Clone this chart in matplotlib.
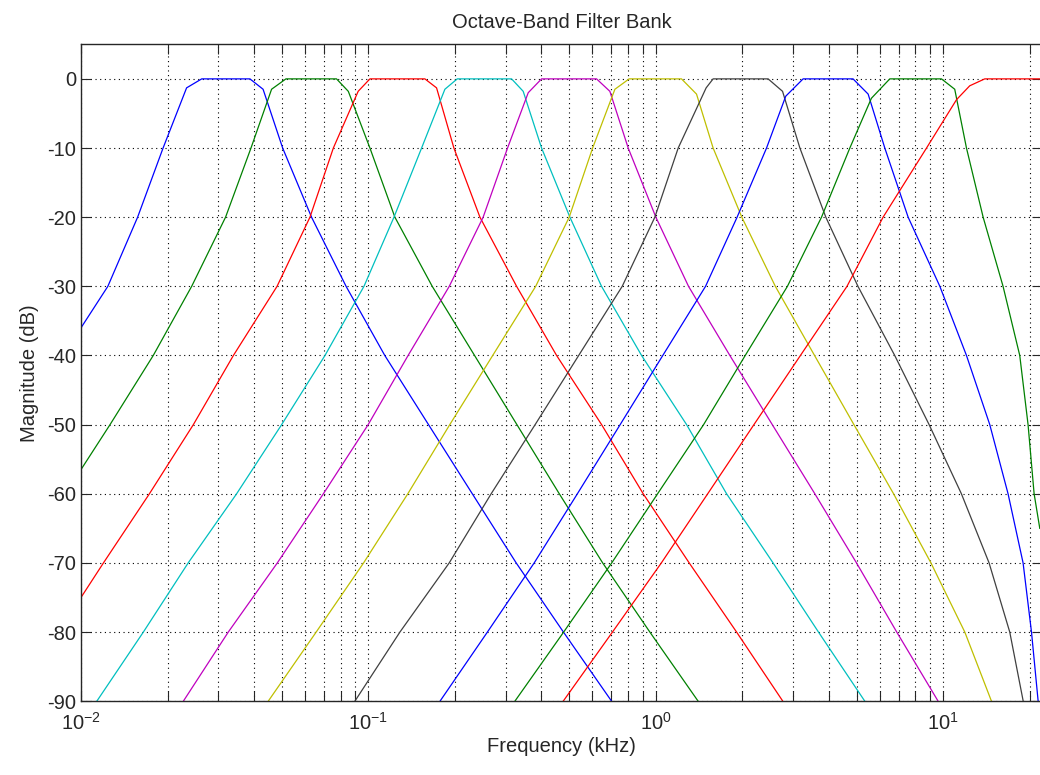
import matplotlib
matplotlib.use('Agg')
import matplotlib.pyplot as plt
from matplotlib.ticker import LogLocator, NullFormatter, MultipleLocator

plt.rcParams['font.family'] = ['Liberation Sans', 'DejaVu Sans']
plt.rcParams['mathtext.fontset'] = 'custom'
plt.rcParams['mathtext.rm'] = 'Liberation Sans'
plt.rcParams['axes.unicode_minus'] = False

# Frequencies in kHz, magnitudes in dB
f1 = [0.01, 0.0124, 0.01574, 0.0193, 0.0233, 0.0263, 0.0387, 0.0430, 0.0503, 0.0634,
      0.0836, 0.114, 0.1618, 0.2298, 0.3266, 0.4769, 0.7015]
m1 = [-36.0, -30, -20, -10, -1.3, 0, 0, -1.5, -10, -20, -30, -40, -50, -60, -70, -80, -90]

f2 = [0.01, 0.01262, 0.01784, 0.02427, 0.03184, 0.03903, 0.04603, 0.05164, 0.07745, 0.08511,
      0.1012, 0.1236, 0.1667, 0.2340, 0.3285, 0.4613, 0.653, 0.953, 1.403]
m2 = [-56.5, -50, -40, -30, -20, -10, -1.5, 0, 0, -1.8, -10, -20, -30, -40, -50, -60, -70, -80, -90]

f3 = [0.01, 0.01197, 0.0173, 0.0246, 0.0339, 0.0481, 0.0626, 0.0755, 0.0921, 0.1012,
      0.1572, 0.1726, 0.1983, 0.2443, 0.3277, 0.4515, 0.6474, 0.9036, 1.306, 1.909, 2.765]
m3 = [-75.0, -70, -60, -50, -40, -30, -20, -10, -1.8, 0, 0, -1.3, -10, -20, -30, -40, -50,
      -60, -70, -80, -90]

f4 = [0.01135, 0.01648, 0.0236, 0.03479, 0.0499, 0.0706, 0.0965, 0.1227, 0.1531, 0.1845,
      0.2037, 0.3148, 0.3455, 0.4003, 0.5023, 0.6471, 0.8918, 1.279, 1.762, 2.557, 3.679, 5.333]
m4 = [-90, -80, -70, -60, -50, -40, -30, -20, -10, -1.5, 0, 0, -1.8, -10, -20, -30, -40, -50,
      -60, -70, -80, -90]

f5 = [0.0227, 0.03254, 0.0482, 0.0697, 0.0998, 0.1374, 0.1911, 0.2507, 0.3048, 0.3597,
      0.4003, 0.6218, 0.6918, 0.8013, 1.0, 1.299, 1.809, 2.541, 3.573, 4.989, 6.887, 9.594]
m5 = [-90, -80, -70, -60, -50, -40, -30, -20, -10, -2.0, 0, 0, -1.8, -10, -20, -30, -40, -50,
      -60, -70, -80, -90]

f6 = [0.04481, 0.0658, 0.0962, 0.1371, 0.1919, 0.2706, 0.3819, 0.4994, 0.6026, 0.7203,
      0.8075, 1.228, 1.385, 1.582, 1.991, 2.604, 3.565, 4.887, 6.714, 9.057, 11.88, 14.71]
m6 = [-90, -80, -70, -60, -50, -40, -30, -20, -10, -1.5, 0, 0, -2.2, -10, -20, -30, -40, -50,
      -60, -70, -80, -90]

f7 = [0.0897, 0.1287, 0.191, 0.2673, 0.3802, 0.5389, 0.7638, 0.992, 1.196, 1.496,
      1.582, 2.458, 2.759, 3.17, 3.902, 5.047, 6.776, 8.925, 11.56, 14.43, 17.03, 18.97]
m7 = [-90, -80, -70, -60, -50, -40, -30, -20, -10, -1.3, 0, 0, -1.8, -10, -20, -30, -40, -50,
      -60, -70, -80, -90]

f8 = [0.1774, 0.2594, 0.3773, 0.5333, 0.7513, 1.057, 1.489, 1.917, 2.427, 2.831,
      3.253, 4.853, 5.477, 6.259, 7.545, 9.727, 12.04, 14.51, 16.8, 18.95, 20.27, 21.38]
m8 = [-90, -80, -70, -60, -50, -40, -30, -20, -10, -2.5, 0, 0, -2.2, -10, -20, -30, -40, -50,
      -60, -70, -80, -90]

f9 = [0.3232, 0.4778, 0.7021, 1.014, 1.466, 2.046, 2.869, 3.77, 4.73, 5.623,
      6.515, 9.856, 10.96, 12.04, 13.76, 16.14, 18.45, 19.72, 20.7, 21.66]
m9 = [-90, -80, -70, -60, -50, -40, -30, -20, -10, -2.8, 0, 0, -1.5, -10, -20, -30, -40, -50,
      -60, -65]

f10 = [0.476, 0.7063, 1.045, 1.515, 2.194, 3.184, 4.624, 6.174, 8.743, 11.12, 12.36, 13.94, 22.05]
m10 = [-90, -80, -70, -60, -50, -40, -30, -20, -10, -3.0, -1.0, 0, 0]

freqs = [f1, f2, f3, f4, f5, f6, f7, f8, f9, f10]
mags = [m1, m2, m3, m4, m5, m6, m7, m8, m9, m10]
colors = ['#0000ff', '#008000', '#ff0000', '#00bfbf', '#bf00bf',
          '#bfbf00', '#404040', '#0000ff', '#008000', '#ff0000']

fig = plt.figure(figsize=(10.4, 7.75), dpi=100)
ax = fig.add_axes([81 / 1040, 1 - 701.2 / 775, (1042 - 81) / 1040, (701.2 - 44.3) / 775])

for f, m, c in zip(freqs, mags, colors):
    ax.plot(f, m, color=c, linewidth=0.9)

ax.set_xscale('log')
ax.set_xlim(0.01, 22.05)
ax.set_ylim(-90, 5)
ax.yaxis.set_major_locator(MultipleLocator(10))
ax.xaxis.set_major_locator(LogLocator(base=10))
ax.xaxis.set_minor_locator(LogLocator(base=10, subs=range(2, 10)))
ax.xaxis.set_minor_formatter(NullFormatter())

dots = (0, (1, 3.2))
ax.grid(True, which='major', color='k', linestyle=dots, linewidth=0.8)
ax.grid(True, which='minor', axis='x', color='k', linestyle=dots, linewidth=0.8)

ax.tick_params(which='both', direction='in', top=True, right=True, labelsize=14.5,
               length=7, width=0.8, colors='#262626')
ax.tick_params(axis='x', which='major', pad=8)
for s in ax.spines.values():
    s.set_linewidth(1.0)
    s.set_color('#262626')

ax.set_title('Octave-Band Filter Bank', fontsize=14.5, pad=12, color='#262626')
ax.set_xlabel('Frequency (kHz)', fontsize=14.5, color='#262626', labelpad=2)
ax.set_ylabel('Magnitude (dB)', fontsize=14.5, color='#262626', labelpad=6)

fig.savefig('out.png', dpi=100)
